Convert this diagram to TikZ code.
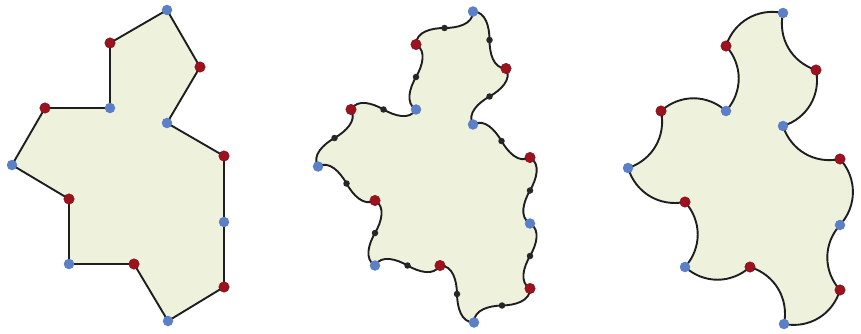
\documentclass[tikz,border=0pt]{standalone}
\usetikzlibrary{calc}
\definecolor{tilefill}{RGB}{238,242,221}
\definecolor{dotblue}{RGB}{92,128,200}
\definecolor{dotred}{RGB}{158,18,30}
\definecolor{edgecol}{RGB}{30,30,30}
\begin{document}
\begin{tikzpicture}[x=1pt,y=-1pt,
  tile/.style={fill=tilefill, draw=edgecol, line width=1.9pt, line join=round},
  bluedot/.style={circle, fill=dotblue, inner sep=0pt, minimum size=10.5pt},
  reddot/.style={circle, fill=dotred, draw=dotred!70!black, line width=0.4pt, inner sep=0pt, minimum size=10.5pt},
  middot/.style={circle, fill=black!85, inner sep=0pt, minimum size=6.5pt},
  wavea/.style={out=60, in=150, relative},
  waveb/.style={out=-30, in=-120, relative},
  arcin/.style={bend right=42},
  arcout/.style={bend left=42}]
\useasboundingbox (0,0) rectangle (861,334);
\foreach \s/\dx/\dy in {A/0/0,B/306/1.5,C/616/3}{
  \foreach \i/\x/\y in {1/167/10,2/200/67,3/167/123,4/224/156,5/224/222,6/224/287,7/168/321,8/134/264,9/69/264,10/69/199,11/12/165,12/45/108,13/110/108,14/110/43}{
    \coordinate (\s\i) at (\x+\dx,\y+\dy);
  }
}
\foreach \i/\j in {1/2,2/3,3/4,4/5,5/6,6/7,7/8,8/9,9/10,10/11,11/12,12/13,13/14,14/1}{
  \coordinate (Bm\i) at ($(B\i)!0.5!(B\j)$);
}
% left: straight polygon
\path[tile] (A1) -- (A2) -- (A3) -- (A4) -- (A5) -- (A6) -- (A7) -- (A8) -- (A9) -- (A10) -- (A11) -- (A12) -- (A13) -- (A14) -- cycle;
% middle: S-shaped edges
\path[tile] (B1) to[wavea] (Bm1) to[waveb] (B2) to[wavea] (Bm2) to[waveb] (B3)
  to[wavea] (Bm3) to[waveb] (B4) to[wavea] (Bm4) to[waveb] (B5)
  to[wavea] (Bm5) to[waveb] (B6) to[wavea] (Bm6) to[waveb] (B7)
  to[wavea] (Bm7) to[waveb] (B8) to[wavea] (Bm8) to[waveb] (B9)
  to[wavea] (Bm9) to[waveb] (B10) to[wavea] (Bm10) to[waveb] (B11)
  to[wavea] (Bm11) to[waveb] (B12) to[wavea] (Bm12) to[waveb] (B13)
  to[wavea] (Bm13) to[waveb] (B14) to[wavea] (Bm14) to[waveb] (B1) -- cycle;
% right: arc edges
\path[tile] (C1) to[arcin] (C2) to[arcout] (C3) to[arcin] (C4) to[arcout] (C5)
  to[arcin] (C6) to[arcout] (C7) to[arcin] (C8) to[arcout] (C9)
  to[arcin] (C10) to[arcout] (C11) to[arcin] (C12) to[arcout] (C13)
  to[arcin] (C14) to[arcout] (C1) -- cycle;
% dots
\foreach \s in {A,B,C}{
  \foreach \i in {1,3,5,7,9,11,13}{ \node[bluedot] (d\s\i) at (\s\i) {}; }
  \foreach \i in {2,4,6,8,10,12,14}{ \node[reddot] (d\s\i) at (\s\i) {}; }
}
\foreach \i in {1,...,14}{ \node[middot] (k\i) at (Bm\i) {}; }
\end{tikzpicture}
\end{document}
